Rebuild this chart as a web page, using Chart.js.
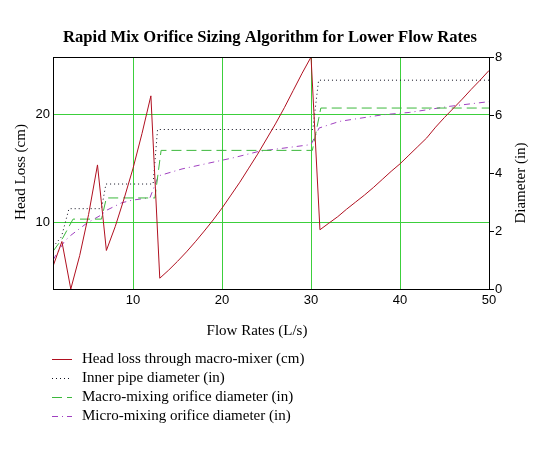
<!DOCTYPE html>
<html>
<head>
<meta charset="utf-8">
<script src="https://cdn.jsdelivr.net/npm/chart.js@4"></script>
<style>
  body { margin: 0; background: #fff; }
  canvas { display: block; }
</style>
</head>
<body>
<canvas id="chart" width="551" height="462"></canvas>
<script>
// Head loss (cm), sampled at each flow rate 1..50 L/s
const headFlow = [1,2,3,4,5,6,7,8,9,10,11,12,13,14,15,16,17,18,19,20,21,22,23,24,25,
  26,27,28,29,30,31,32,33,34,35,36,37,38,39,40,41,42,43,44,45,46,47,48,49,50];
const headLoss = [5.9,8.2,3.8,6.9,10.7,15.3,7.37,9.6,12.2,15.0,18.2,21.7,4.8,5.55,6.37,7.24,8.18,9.17,10.2,11.3,12.5,
  13.7,15.0,16.3,17.7,19.1,20.6,22.2,23.8,25.3,9.29,9.9,10.5,11.2,11.85,12.5,13.2,13.95,14.7,15.4,
  16.2,17.0,17.8,18.8,19.7,20.55,21.4,22.3,23.15,24.05];

// Inner pipe diameter (in)
const pipeFlow = [1, 1.95, 2.8, 6.45, 6.95, 12.25, 12.75, 30.2, 30.85, 50];
const pipeDiam = [1.45, 1.8, 2.77, 2.77, 3.62, 3.62, 5.5, 5.5, 7.2, 7.2];

// Macro-mixing orifice diameter (in)
const macroFlow = [1, 2.1, 3.25, 6.45, 7.0, 12.45, 13.15, 30.15, 31.1, 50];
const macroDiam = [1.3, 1.76, 2.41, 2.41, 3.14, 3.14, 4.78, 4.78, 6.24, 6.24];

// Micro-mixing orifice diameter (in)
const microFlow = [1, 1.6, 2.3, 3, 4.8, 6.4, 7.05, 8.7, 9.85, 11.9, 12.85, 15.5, 21.2, 24.2, 29.5, 30.0,
  30.9, 33.2, 38.1, 41.1, 45.6, 50];
const microDiam = [1.0, 1.3, 1.65, 1.85, 2.27, 2.55, 2.72, 2.97, 3.06, 3.15, 3.9, 4.14, 4.52, 4.75, 4.96, 4.98,
  5.55, 5.78, 6.01, 6.09, 6.30, 6.46];

const xTicks = [10, 20, 30, 40, 50];
const headTicks = [10, 20];
const diamTicks = [0, 2, 4, 6, 8];

const labels = [
  'Head loss through macro-mixer (cm)',
  'Inner pipe diameter (in)',
  'Macro-mixing orifice diameter (in)',
  'Micro-mixing orifice diameter (in)'
];

const serif = "'Liberation Serif', 'Times New Roman', serif";
const sans = "'Liberation Sans', Arial, sans-serif";
const gridGreen = '#3ccf3c';

function pairs(xs, ys) {
  return xs.map((x, i) => ({ x: x, y: ys[i] }));
}

// title, axis titles, frame and the legend are drawn here
const decor = {
  id: 'decor',
  afterDraw(chart) {
    const ctx = chart.ctx;
    const a = chart.chartArea;
    ctx.save();
    ctx.strokeStyle = '#000';
    ctx.lineWidth = 1;
    ctx.strokeRect(Math.round(a.left) + 0.5, Math.round(a.top) + 0.5,
      Math.round(a.right - a.left), Math.round(a.bottom - a.top));

    ctx.fillStyle = '#000';
    ctx.textAlign = 'center';
    ctx.textBaseline = 'middle';
    ctx.font = 'bold 16.6px ' + serif;
    ctx.fillText('Rapid Mix Orifice Sizing Algorithm for Lower Flow Rates', 270, 38);

    ctx.font = '15px ' + serif;
    ctx.fillText('Flow Rates (L/s)', 257, 331);

    ctx.save();
    ctx.translate(21, 172);
    ctx.rotate(-Math.PI / 2);
    ctx.fillText('Head Loss (cm)', 0, 0);
    ctx.restore();

    ctx.save();
    ctx.translate(521, 183);
    ctx.rotate(-Math.PI / 2);
    ctx.fillText('Diameter (in)', 0, 0);
    ctx.restore();

    // legend
    ctx.textAlign = 'left';
    chart.data.datasets.forEach((ds, i) => {
      const y = 359 + i * 19;
      ctx.save();
      ctx.strokeStyle = ds.borderColor;
      ctx.lineWidth = 1;
      ctx.setLineDash(ds.borderDash || []);
      ctx.beginPath();
      ctx.moveTo(52, y + 0.5);
      ctx.lineTo(72, y + 0.5);
      ctx.stroke();
      ctx.restore();
      ctx.fillStyle = '#000';
      ctx.font = '15px ' + serif;
      ctx.fillText(ds.label, 82, y);
    });
    ctx.restore();
  }
};

const config = {
  type: 'scatter',
  data: {
    datasets: [
      {
        label: labels[0],
        data: pairs(headFlow, headLoss),
        yAxisID: 'y',
        borderColor: '#b01020',
        borderWidth: 1,
        showLine: true,
        pointRadius: 0
      },
      {
        label: labels[1],
        data: pairs(pipeFlow, pipeDiam),
        yAxisID: 'y2',
        borderColor: '#101020',
        borderWidth: 1,
        borderDash: [1, 3],
        showLine: true,
        pointRadius: 0
      },
      {
        label: labels[2],
        data: pairs(macroFlow, macroDiam),
        yAxisID: 'y2',
        borderColor: '#3cb83c',
        borderWidth: 1,
        borderDash: [10, 5],
        showLine: true,
        pointRadius: 0
      },
      {
        label: labels[3],
        data: pairs(microFlow, microDiam),
        yAxisID: 'y2',
        borderColor: '#a040c0',
        borderWidth: 1,
        borderDash: [6, 4, 1, 4],
        showLine: true,
        pointRadius: 0
      }
    ]
  },
  options: {
    responsive: false,
    animation: false,
    devicePixelRatio: 1,
    layout: { padding: { top: 57, left: 0, right: 0, bottom: 0 } },
    plugins: {
      legend: { display: false },
      title: { display: false },
      tooltip: { enabled: false }
    },
    scales: {
      x: {
        type: 'linear',
        min: 1,
        max: 50,
        afterBuildTicks: s => { s.ticks = xTicks.map(v => ({ value: v })); },
        afterFit: s => { s.height = 173; },
        grid: { color: gridGreen, lineWidth: 1, drawTicks: false },
        border: { display: false },
        ticks: { color: '#000', padding: 4, maxRotation: 0, font: { family: sans, size: 13 } }
      },
      y: {
        type: 'linear',
        position: 'left',
        min: 3.8,
        max: 25.3,
        afterBuildTicks: s => { s.ticks = headTicks.map(v => ({ value: v })); },
        afterFit: s => { s.width = 53; },
        grid: { color: gridGreen, lineWidth: 1, drawTicks: false },
        border: { display: false },
        ticks: { color: '#000', padding: 3, font: { family: sans, size: 13 } }
      },
      y2: {
        type: 'linear',
        position: 'right',
        min: 0,
        max: 8,
        afterBuildTicks: s => { s.ticks = diamTicks.map(v => ({ value: v })); },
        afterFit: s => { s.width = 62; },
        grid: { drawOnChartArea: false, drawTicks: true, tickLength: 5, color: '#000' },
        border: { display: false },
        ticks: { color: '#000', padding: 1, font: { family: sans, size: 13 } }
      }
    }
  },
  plugins: [decor]
};

const myChart = new Chart(document.getElementById('chart'), config);
</script>
</body>
</html>
